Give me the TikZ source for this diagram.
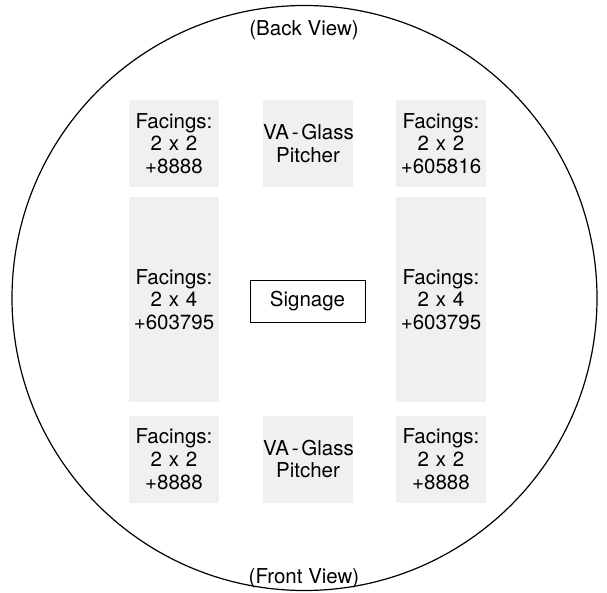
\documentclass[tikz,border=0pt]{standalone}
\usepackage{fontspec}
\setmainfont{TeX Gyre Heros}
\definecolor{shelfgray}{HTML}{F0F0F2}
\newcommand{\vaglass}{\mbox{VA\kern0.14em-\kern0.14em Glass}}
\begin{document}
\begin{tikzpicture}[x=1pt,y=-1pt,
  shelf/.style={fill=shelfgray,draw=none,inner sep=0pt,text width=90pt,minimum width=90pt,align=center,
    font=\fontsize{20.5}{22.8}\selectfont},
  shortshelf/.style={shelf,minimum height=87pt},
  tallshelf/.style={shelf,minimum height=205pt},
  signbox/.style={draw=black,line width=0.9pt,fill=white,inner sep=0pt,minimum width=115pt,minimum height=42pt,
    font=\fontsize{20.5}{22.8}\selectfont},
  viewlabel/.style={inner sep=0pt,font=\fontsize{20.5}{22.8}\selectfont}]
\useasboundingbox (0,0) rectangle (607,593);
\node[circle,draw=black,line width=1.2pt,minimum size=585pt,inner sep=0pt] (table) at (304.5,298) {};
\node[shortshelf] (tl) at (174,143.5) {Facings:\\2 x 2\\+8888};
\node[shortshelf] (tm) at (308,143.5) {\vaglass\\Pitcher};
\node[shortshelf] (tr) at (441,143.5) {Facings:\\2 x 2\\+605816};
\node[tallshelf] (ml) at (174,299.5) {Facings:\\2 x 4\\+603795};
\node[tallshelf] (mr) at (441,299.5) {Facings:\\2 x 4\\+603795};
\node[signbox] (sign) at (307.5,301) {Signage};
\node[shortshelf] (bl) at (174,459) {Facings:\\2 x 2\\+8888};
\node[shortshelf] (bm) at (308,459) {\vaglass\\Pitcher};
\node[shortshelf] (br) at (441,459) {Facings:\\2 x 2\\+8888};
\node[viewlabel] (back) at (304,30) {(Back View)};
\node[viewlabel] (front) at (304,578) {(Front View)};
\end{tikzpicture}
\end{document}
